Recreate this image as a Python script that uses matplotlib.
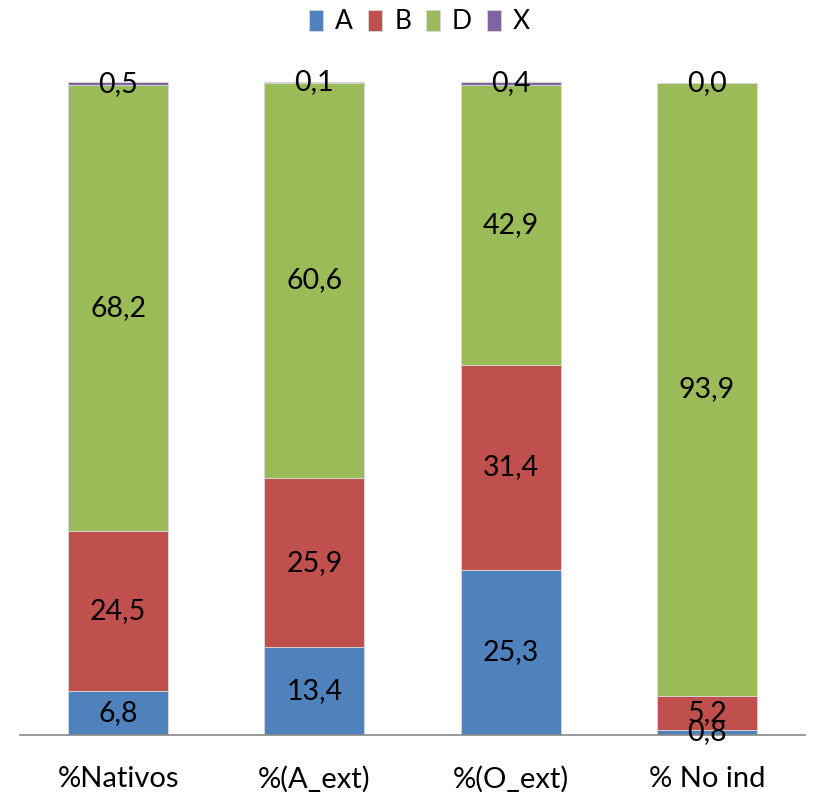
import matplotlib
matplotlib.use("Agg")
import matplotlib.pyplot as plt
import numpy as np

categories = ["%Nativos", "%(A_ext)", "%(O_ext)", "% No ind"]
series_names = ["A", "B", "D", "X"]
A = [6.8, 13.4, 25.3, 0.8]
B = [24.5, 25.9, 31.4, 5.2]
D = [68.2, 60.6, 42.9, 93.9]
X = [0.5, 0.1, 0.4, 0.0]
colors = ["#4F81BD", "#C0504D", "#9BBB59", "#8064A2"]

plt.rcParams['font.family'] = ['Lato', 'DejaVu Sans']

fig = plt.figure(figsize=(8.13, 7.92), dpi=100)
ax = fig.add_axes([20/813, 57/792, 785/813, (735-82)/792])

x = np.arange(len(categories))
bottom = np.zeros(len(categories))
for name, vals, c in zip(series_names, [A, B, D, X], colors):
    vals = np.array(vals)
    ax.bar(x, vals, 0.51, bottom=bottom, color=c, label=name,
           edgecolor="#d9d9d9", linewidth=0.6)
    for xi, b, v in zip(x, bottom, vals):
        ax.text(xi, b + v / 2, f"{v:.1f}".replace(".", ","), ha="center",
                va="center", fontsize=20.5, color="black")
    bottom += vals

ax.set_xlim(-0.5, 3.5)
ax.set_ylim(0, 100)
ax.set_yticks([])
ax.set_xticks(x)
ax.set_xticklabels(categories, fontsize=21)
ax.tick_params(axis="x", length=0, pad=22)
for s in ["top", "right", "left"]:
    ax.spines[s].set_visible(False)
ax.spines["bottom"].set_color("#888888")
ax.spines["bottom"].set_linewidth(1.2)

fig.legend(loc="upper center", bbox_to_anchor=(0.516, 1.018), ncol=4, frameon=False,
           fontsize=19, handlelength=0.55, handleheight=0.85, handletextpad=0.45,
           columnspacing=0.55)

fig.savefig("out.png", dpi=100)
